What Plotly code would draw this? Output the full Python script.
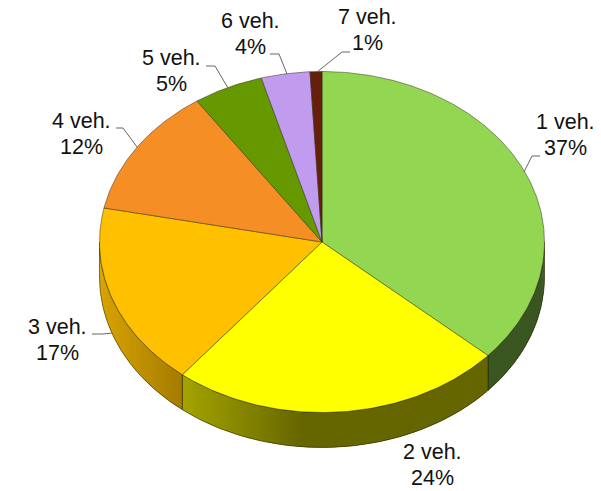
import numpy as np
import plotly.graph_objects as go

# Data
categories = ["1 veh.", "2 veh.", "3 veh.", "4 veh.", "5 veh.", "6 veh.", "7 veh."]
shares = [36.6, 24.2, 17.4, 12.3, 5.1, 3.54, 0.86]
colors = ["#92D652", "#FFFF00", "#FFC000", "#F58F25", "#669900", "#C09BEE", "#661F0C"]

# Pie geometry, in canvas units
CX, CY, RX, RY, DEPTH = 322.0, 242.0, 222.5, 170.5, 35.0
W, H = 601, 491
LABEL_POS = [(565, 135), (432, 465), (57, 340), (81, 134), (171, 71), (250, 33.5), (367, 30)]
LINE_GAP = 13
LEADERS = [
    [(540, 156), (532, 156), (524, 172)],
    [],
    [(92, 334), (103, 334), (112, 333)],
    [(116, 128), (123, 128), (137, 147)],
    [(206, 66), (215, 66), (228, 88)],
    [(270, 54), (279, 54), (287, 74)],
    [(317, 72), (342, 52), (350, 52)],
]


def rim(deg):
    t = np.radians(deg)
    return CX + RX * np.sin(t), CY - RY * np.cos(t)


def shade(hex_color, x):
    f = float(np.interp(x, [100, 182, 300], [0.85, 0.64, 0.40]))
    r, g, b = (int(hex_color[i:i + 2], 16) for i in (1, 3, 5))
    return f"rgb({r * f:.0f},{g * f:.0f},{b * f:.0f})"


fig = go.Figure()
edges = np.cumsum([0] + shares) / sum(shares) * 360

# Side wall, as overlapping narrow strips with a left-to-right shade
for i, color in enumerate(colors):
    a0, a1 = edges[i], edges[i + 1]
    lo, hi = max(a0, 90.0), min(a1, 270.0)
    if hi <= lo:
        continue
    stops = np.arange(lo, hi, 1.0)
    for s0 in stops:
        seg = np.linspace(s0, min(s0 + 2.0, hi), 5)
        xs, ys = rim(seg)
        fill = shade(color, xs.mean())
        fig.add_trace(go.Scatter(
            x=list(xs) + list(xs[::-1]) + [xs[0]],
            y=list(ys) + list(ys[::-1] + DEPTH) + [ys[0]],
            mode="lines", fill="toself", fillcolor=fill,
            line=dict(width=0), hoverinfo="skip", showlegend=False))
    # wall outline of the slice
    arc = np.linspace(lo, hi, 120)
    xs, ys = rim(arc)
    fig.add_trace(go.Scatter(
        x=list(xs) + list(xs[::-1]) + [xs[0]],
        y=list(ys) + list(ys[::-1] + DEPTH) + [ys[0]],
        mode="lines", line=dict(color="rgba(30,30,0,0.65)", width=0.8),
        hoverinfo="skip", showlegend=False))

# Top face
for i, color in enumerate(colors):
    arc = np.linspace(edges[i], edges[i + 1], max(int(shares[i] * 6), 8))
    xs, ys = rim(arc)
    fig.add_trace(go.Scatter(
        x=[CX] + list(xs) + [CX], y=[CY] + list(ys) + [CY],
        mode="lines", fill="toself", fillcolor=color,
        line=dict(color="rgba(40,40,20,0.6)", width=0.8),
        hoverinfo="skip", showlegend=False))

# Leader lines
for pts in LEADERS:
    if pts:
        fig.add_trace(go.Scatter(
            x=[p[0] for p in pts], y=[p[1] for p in pts], mode="lines",
            line=dict(color="#666666", width=1), hoverinfo="skip", showlegend=False))

# Labels
label_font = dict(family="Liberation Sans, Arial, sans-serif", size=21.5, color="#111111")
for name, share, (lx, ly) in zip(categories, shares, LABEL_POS):
    fig.add_annotation(x=lx, y=ly - LINE_GAP, text=name, showarrow=False, font=label_font)
    fig.add_annotation(x=lx, y=ly + LINE_GAP, text=f"{round(share)}%", showarrow=False, font=label_font)

fig.update_layout(
    width=W, height=H, margin=dict(l=0, r=0, t=0, b=0),
    paper_bgcolor="white", plot_bgcolor="white", showlegend=False,
    xaxis=dict(range=[0, W], visible=False, fixedrange=True),
    yaxis=dict(range=[H, 0], visible=False, fixedrange=True),
)
fig.write_html("out.html", config=dict(displayModeBar=False),
               post_script="document.body.style.margin='0';document.documentElement.style.overflow='hidden';")
